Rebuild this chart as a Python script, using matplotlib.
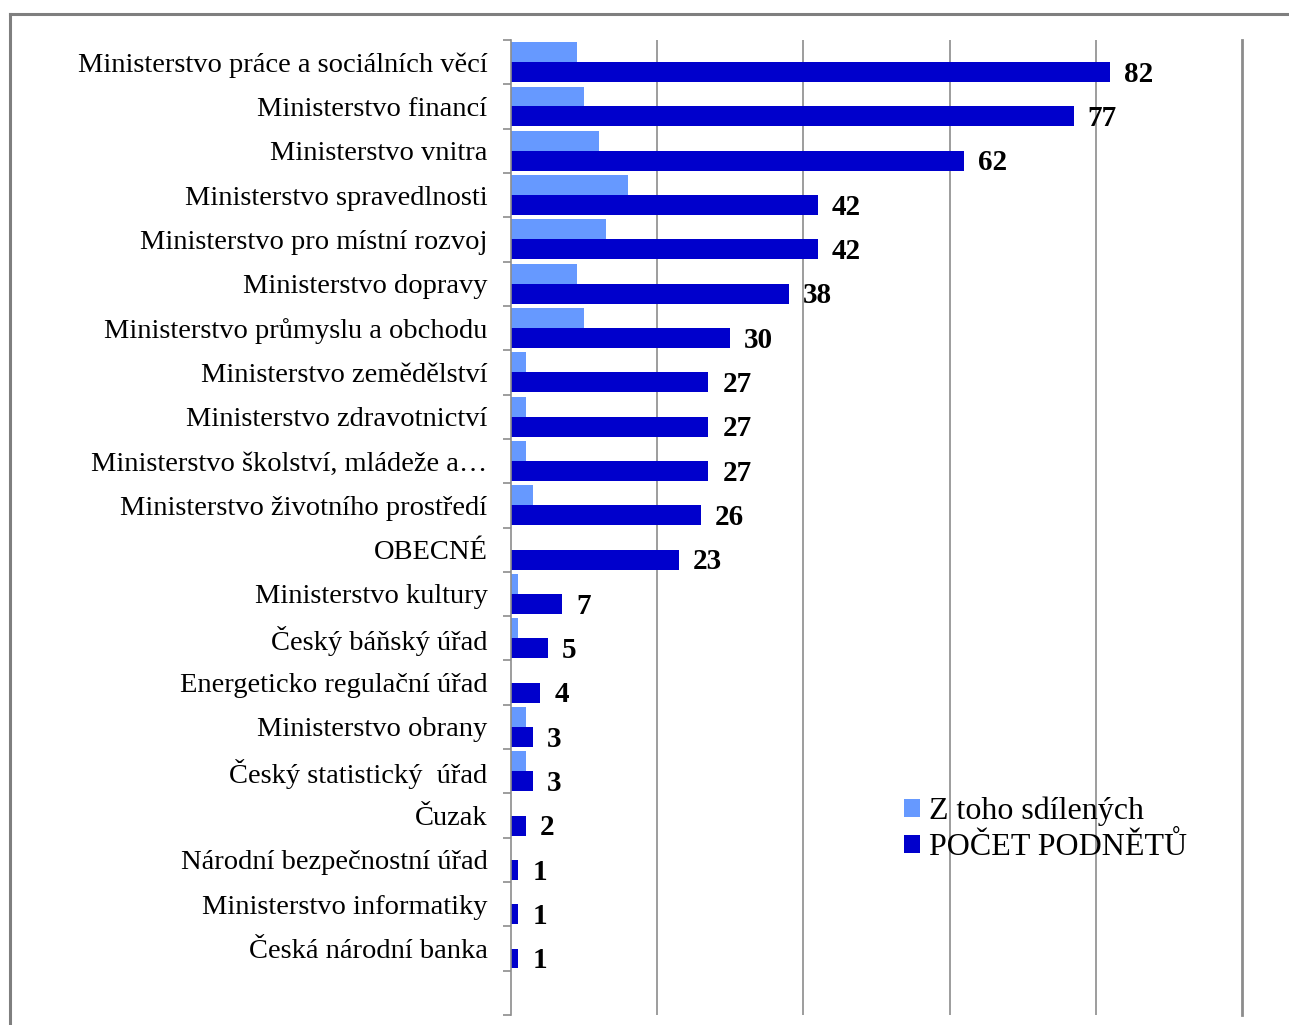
import matplotlib.pyplot as plt
from matplotlib.lines import Line2D
import numpy as np

plt.rcParams['font.family'] = ['Liberation Serif', 'DejaVu Serif']

categories = [
    'Ministerstvo práce a sociálních věcí',
    'Ministerstvo financí',
    'Ministerstvo vnitra',
    'Ministerstvo spravedlnosti',
    'Ministerstvo pro místní rozvoj',
    'Ministerstvo dopravy',
    'Ministerstvo průmyslu a obchodu',
    'Ministerstvo zemědělství',
    'Ministerstvo zdravotnictví',
    'Ministerstvo školství, mládeže a…',
    'Ministerstvo životního prostředí',
    'OBECNÉ',
    'Ministerstvo kultury',
    'Český báňský úřad',
    'Energeticko regulační úřad',
    'Ministerstvo obrany',
    'Český statistický  úřad',
    'Čuzak',
    'Národní bezpečnostní úřad',
    'Ministerstvo informatiky',
    'Česká národní banka',
]
sdilene = [9, 10, 12, 16, 13, 9, 10, 2, 2, 2, 3, 0, 1, 1, 0, 2, 2, 0, 0, 0, 0]
podnety = [82, 77, 62, 42, 42, 38, 30, 27, 27, 27, 26, 23, 7, 5, 4, 3, 3, 2, 1, 1, 1]

light = '#6699FF'
dark = '#0000CC'
grid_c = '#8C8C8C'

fig = plt.figure(figsize=(12.89, 10.25), dpi=100)
ax = fig.add_axes([511 / 1289, 1 - 1015 / 1025, (1242 - 511) / 1289, (1015 - 40) / 1025])

y = np.arange(len(categories))
h = 0.45
ax.barh(y - h / 2, sdilene, height=h, color=light, label='Z toho sdílených')
ax.barh(y + h / 2, podnety, height=h, color=dark, label='POČET PODNĚTŮ')

for yi, v in zip(y, podnety):
    ax.text(v + 1.9, yi + h / 2 + 0.05, str(v), va='center', ha='left',
            fontsize=21, fontweight='bold', color='black')

ax.set_xlim(0, 100)
ax.set_ylim(len(categories) + 0.5, -0.5)
ax.set_xticks([20, 40, 60, 80])
ax.tick_params(axis='x', length=0, labelbottom=False)
ax.grid(axis='x', color=grid_c, linewidth=1.2)
ax.set_axisbelow(True)

ax.set_yticks(y)
ax.set_yticklabels(categories, fontsize=20.5)
ax.tick_params(axis='y', which='major', length=0, pad=17)
ax.set_yticks(np.arange(-0.5, len(categories) + 1, 1), minor=True)
ax.tick_params(axis='y', which='minor', length=6, color=grid_c, width=1.2)

for s in ['top', 'bottom']:
    ax.spines[s].set_visible(False)
ax.spines['left'].set_color(grid_c)
ax.spines['left'].set_linewidth(1.2)
ax.spines['right'].set_color(grid_c)
ax.spines['right'].set_linewidth(2)

ax.legend(loc='upper left', bbox_to_anchor=(0.537, 0.224), frameon=False,
          fontsize=23, handlelength=0.5, handleheight=0.5, handletextpad=0.3,
          labelspacing=0.23, borderaxespad=0, borderpad=0)

# outer chart frame (cut off on the right and bottom)
fig.add_artist(Line2D([10 / 1289, 1.0], [1 - 14 / 1025, 1 - 14 / 1025],
                      color='#7F7F7F', linewidth=2.2, transform=fig.transFigure))
fig.add_artist(Line2D([10 / 1289, 10 / 1289], [0, 1 - 14 / 1025],
                      color='#7F7F7F', linewidth=2.2, transform=fig.transFigure))

fig.savefig('out.png', dpi=100)
